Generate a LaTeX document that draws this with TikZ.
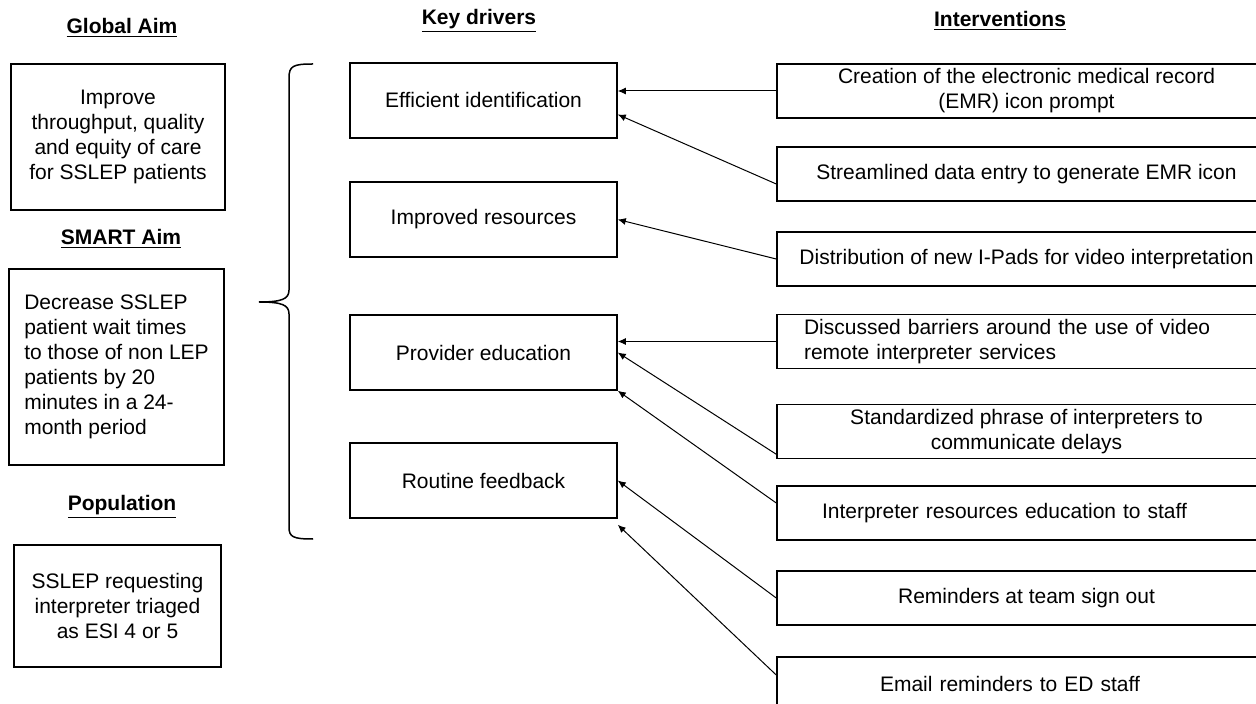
\documentclass[tikz,border=0pt]{standalone}
\usepackage{fontspec}
\setmainfont{Liberation Sans}
\usetikzlibrary{arrows.meta}

\begin{document}
\begin{tikzpicture}[x=0.5pt,y=-0.5pt,
	every node/.style={font=\fontsize{10.5}{12.5}\selectfont},
	head/.style={font=\fontsize{10.5}{12.5}\selectfont\bfseries},
	aimbox/.style={draw,line width=0.75pt,align=center},
	drvbox/.style={draw,line width=0.75pt,minimum width=133.5pt,minimum height=37.5pt},
	intbox/.style={draw,line width=0.75pt,minimum width=249.5pt,minimum height=27pt,inner ysep=1pt,align=center},
	arr/.style={-{Latex[length=4pt,width=3.5pt]},line width=0.5pt}]

				\useasboundingbox (0,0) rectangle (1256,704);
				\clip (0,0) rectangle (1256,704);

				% column heads
				\node[head] (globalhd) at (122,28) {\underline{Global Aim}};
				\node[head] (smarthd) at (121,239) {\underline{SMART Aim}};
				\node[head] (pophd) at (122,507) {\underline{Population}};
				\node[head] (drvhd) at (479,21) {\underline{Key drivers}};
				\node[head] (inthd) at (1000,21) {\underline{Interventions}};

				% aims
				\node[aimbox,minimum width=107pt,minimum height=73pt] (global) at (118,137) {Improve\\throughput, quality\\and equity of care\\for SSLEP patients};
				\node[aimbox,align=left,minimum width=107.5pt,minimum height=98pt] (smart) at (116.5,367) {Decrease SSLEP\\patient wait times\\to those of non LEP\\patients by 20\\minutes in a 24-\\month period};
				\node[aimbox,minimum width=103.5pt,minimum height=61pt] (pop) at (117.5,606) {SSLEP requesting\\interpreter triaged\\as ESI 4 or 5};

				\coordinate (brtop) at (313,64);
				\coordinate (brtip) at (259,302);
				\coordinate (brbot) at (313,539);
				\draw[line width=0.75pt] (brtop) .. controls (293,64) and (289,66) .. (289,78) -- (289,290)
					.. controls (289,299) and (282,302) .. (brtip)
					.. controls (282,302) and (289,305) .. (289,314) -- (289,527)
					.. controls (289,537) and (293,539) .. (brbot);

				% key drivers
				\node[drvbox] (eff) at (483.5,100.5) {Efficient identification};
				\node[drvbox] (imp) at (483.5,219.5) {Improved resources};
				\node[drvbox] (prov) at (483.5,352.5) {Provider education};
				\node[drvbox] (rout) at (483.5,480.5) {Routine feedback};

				% interventions
				\node[intbox] (int1) at (1026.5,91) {Creation of the electronic medical record\\(EMR) icon prompt};
				\node[intbox] (int2) at (1026.5,174) {Streamlined data entry to generate EMR icon};
				\node[intbox] (int3) at (1026.5,259) {Distribution of new I-Pads for video interpretation};
				\node[intbox,align=left,text width=222.5pt,inner xsep=13.5pt] (int4) at (1026.5,341.5) {Discussed barriers around the use of video\\remote interpreter services};
				\node[intbox] (int5) at (1026.5,431.5) {Standardized phrase of interpreters to\\communicate delays};
				\node[intbox,align=left,text width=204.5pt,inner xsep=22.5pt] (int6) at (1026.5,513) {Interpreter resources education to staff};
				\node[intbox] (int7) at (1026.5,598) {Reminders at team sign out};
				\node[intbox,align=left,text width=146.5pt,inner xsep=51.5pt] (int8) at (1026.5,684) {Email reminders to ED staff};

				\draw[arr] (int1.west) -- (int1.west -| eff.east);
				\draw[arr] ([yshift=-5pt]int2.west) -- ([yshift=-7pt]eff.east);
				\draw[arr] (int3.west) -- (imp.east);
				\draw[arr] (int4.west) -- (int4.west -| prov.east);
				\draw[arr] ([yshift=2.5pt]int5.south west) -- (prov.east);
				\draw[arr] ([yshift=5pt]int6.west) -- (prov.south east);
				\draw[arr] (int7.west) -- (rout.east);
				\draw[arr] ([yshift=4.5pt]int8.west) -- ([yshift=-3pt]rout.south east);

			\end{tikzpicture}
\end{document}
